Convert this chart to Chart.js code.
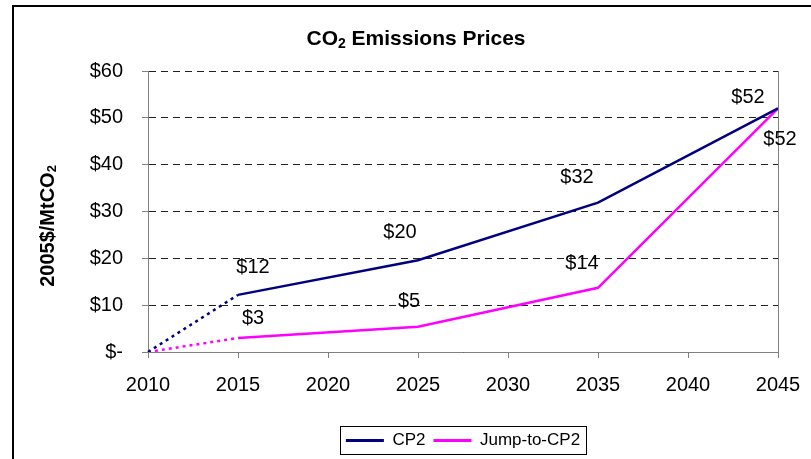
<!DOCTYPE html>
<html>
<head>
<meta charset="utf-8">
<script src="https://cdn.jsdelivr.net/npm/chart.js@4.4.1/dist/chart.umd.min.js"></script>
<style>
  html, body { margin: 0; padding: 0; background: #fff; overflow: hidden; }
  #wrap { position: relative; width: 811px; height: 459px; }
</style>
</head>
<body>
<div id="wrap"><canvas id="chart" width="811" height="459"></canvas></div>
<script>
const years = ['2010', '2015', '2020', '2025', '2030', '2035', '2040', '2045'];
// null = no point in that year, line is drawn straight across
const cp2 = [0, 12.2, null, 19.6, null, 31.9, null, 52];
const jumpToCp2 = [0, 3, null, 5.4, null, 13.7, null, 52];
const yTicks = [0, 10, 20, 30, 40, 50, 60];

// hand-placed label offsets from each point (px), like the moved Excel labels
const labelShift = {
  0: { 1: [15, -27], 3: [-18, -28], 5: [-21, -25], 7: [-30, -11] },
  1: { 1: [15, -19], 3: [-9, -25], 5: [-16, -24], 7: [2, 31] }
};

const FONT = '"Liberation Sans", Arial, sans-serif';

function money(v) {
  return v === 0 ? '$-' : '$' + Math.round(v);
}

// outer frame, chart title, y title, right edge of plot, legend box, point labels
const decor = {
  id: 'decor',
  beforeDraw(chart) {
    const ctx = chart.ctx;
    ctx.save();
    ctx.fillStyle = '#fff';
    ctx.fillRect(0, 0, chart.width, chart.height);
    ctx.strokeStyle = '#000';
    ctx.lineWidth = 2;
    ctx.strokeRect(13, 6, 900, 600);
    ctx.restore();
  },
  afterDraw(chart) {
    const ctx = chart.ctx;
    const area = chart.chartArea;
    ctx.save();

    // right side of plot
    ctx.strokeStyle = '#808080';
    ctx.lineWidth = 1;
    ctx.beginPath();
    ctx.moveTo(Math.round(area.right) + 0.5, area.top);
    ctx.lineTo(Math.round(area.right) + 0.5, area.bottom);
    ctx.stroke();

    // title with subscript
    ctx.fillStyle = '#000';
    ctx.textBaseline = 'alphabetic';
    ctx.textAlign = 'left';
    const a = 'CO', c = ' Emissions Prices';
    ctx.font = 'bold 21px ' + FONT;
    const wa = ctx.measureText(a).width, wc = ctx.measureText(c).width;
    ctx.font = 'bold 14px ' + FONT;
    const wb = ctx.measureText('2').width;
    const x = 416 - (wa + wb + wc) / 2;
    const by = 45;
    ctx.font = 'bold 21px ' + FONT;
    ctx.fillText(a, x, by);
    ctx.font = 'bold 14px ' + FONT;
    ctx.fillText('2', x + wa, by + 3);
    ctx.font = 'bold 21px ' + FONT;
    ctx.fillText(c, x + wa + wb, by);

    // y title, rotated
    ctx.save();
    ctx.translate(54, 226);
    ctx.rotate(-Math.PI / 2);
    const ya = '2005$/MtCO';
    ctx.font = 'bold 20px ' + FONT;
    const wya = ctx.measureText(ya).width;
    ctx.font = 'bold 13px ' + FONT;
    const wyb = ctx.measureText('2').width;
    const yx = -(wya + wyb) / 2;
    ctx.font = 'bold 20px ' + FONT;
    ctx.fillText(ya, yx, 0);
    ctx.font = 'bold 13px ' + FONT;
    ctx.fillText('2', yx + wya, 2);
    ctx.restore();

    // point labels
    ctx.font = '20px ' + FONT;
    ctx.textAlign = 'center';
    ctx.textBaseline = 'middle';
    chart.data.datasets.forEach((ds, di) => {
      const meta = chart.getDatasetMeta(di);
      ds.data.forEach((v, i) => {
        if (v === null || !labelShift[di][i]) return;
        const pt = meta.data[i];
        const [dx, dy] = labelShift[di][i];
        ctx.fillText(money(v), pt.x + dx, pt.y + dy);
      });
    });

    // legend frame
    const boxes = chart.legend.legendHitBoxes;
    if (boxes && boxes.length) {
      const l = Math.min(...boxes.map(b => b.left)) - 6;
      const r = Math.max(...boxes.map(b => b.left + b.width)) + 6;
      const t = Math.min(...boxes.map(b => b.top)) - 6;
      const btm = Math.max(...boxes.map(b => b.top + b.height)) + 5;
      ctx.strokeStyle = '#000';
      ctx.lineWidth = 1;
      ctx.strokeRect(Math.round(l) + 0.5, Math.round(t) + 0.5, Math.round(r - l), Math.round(btm - t));
    }
    ctx.restore();
  }
};

const dotted = (ctx) => ctx.p0DataIndex === 0 ? [3, 4] : undefined;

new Chart(document.getElementById('chart'), {
  type: 'line',
  data: {
    labels: years,
    datasets: [
      {
        label: 'CP2',
        data: cp2,
        borderColor: '#000080',
        backgroundColor: '#000080',
        borderWidth: 2.5,
        pointRadius: 0,
        spanGaps: true,
        tension: 0,
        segment: { borderDash: dotted }
      },
      {
        label: 'Jump-to-CP2',
        data: jumpToCp2,
        borderColor: '#ff00ff',
        backgroundColor: '#ff00ff',
        borderWidth: 2.5,
        pointRadius: 0,
        spanGaps: true,
        tension: 0,
        segment: { borderDash: dotted }
      }
    ]
  },
  options: {
    responsive: false,
    animation: false,
    layout: { padding: { top: 71, right: 33, left: 0, bottom: 0 } },
    plugins: {
      title: { display: false },
      tooltip: { enabled: false },
      legend: {
        position: 'bottom',
        fullSize: false,
        labels: {
          color: '#000',
          font: { family: FONT, size: 17 },
          boxWidth: 38,
          boxHeight: 3,
          padding: 8,
          generateLabels(chart) {
            return chart.data.datasets.map((ds, i) => ({
              text: ds.label,
              fillStyle: ds.borderColor,
              strokeStyle: ds.borderColor,
              lineWidth: 0,
              datasetIndex: i
            }));
          }
        }
      }
    },
    scales: {
      x: {
        offset: false,
        grid: {
          drawOnChartArea: false,
          drawTicks: true,
          tickLength: 6,
          color: '#808080'
        },
        border: { display: true, color: '#808080', width: 1 },
        ticks: {
          color: '#000',
          font: { family: FONT, size: 20 },
          padding: 15,
          maxRotation: 0,
          autoSkip: false
        },
        afterFit(scale) {
          scale.height = 72;
          // keep the last year label from eating into the plot width
          scale.paddingRight = 0;
          scale.paddingLeft = 0;
        }
      },
      y: {
        min: 0,
        max: 60,
        afterBuildTicks(scale) { scale.ticks = yTicks.map(v => ({ value: v })); },
        grid: {
          color: '#222',
          lineWidth: 1,
          drawTicks: true,
          tickLength: 6,
          tickColor: '#808080'
        },
        border: { display: true, color: '#808080', width: 1, dash: [7, 5] },
        ticks: {
          color: '#000',
          font: { family: FONT, size: 20 },
          padding: 19,
          callback: (v) => money(v)
        },
        afterFit(scale) { scale.width = 148; }
      }
    }
  },
  plugins: [decor]
});
</script>
</body>
</html>
